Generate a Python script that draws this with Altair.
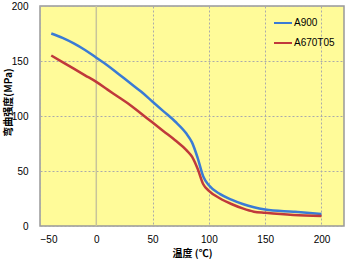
import altair as alt
import pandas as pd

temps = [-40, -30, -20, -10, 0, 10, 20, 30, 40, 50, 60, 70, 80, 85, 90, 95, 100, 110, 120, 130, 140, 150, 175, 200]
a900 = [175, 171, 166, 160, 153, 146, 138, 130, 122, 113, 104, 95, 84, 76, 62, 45, 37, 29, 24, 20, 17, 15, 13, 11]
a670 = [155, 149, 143, 137, 131, 124, 117, 110, 102, 94, 86, 78, 69, 63, 52, 38, 32, 25, 20, 16, 13, 12, 10, 9]
series = ["A900", "A670T05"]
colors = ["#3A7BD5", "#C0393B"]

rows = []
for t, v in zip(temps, a900):
    rows.append({"t": t, "v": v, "s": "A900"})
for t, v in zip(temps, a670):
    rows.append({"t": t, "v": v, "s": "A670T05"})
df = pd.DataFrame(rows)

x = alt.X("t:Q", scale=alt.Scale(domain=[-50, 220], nice=False),
          axis=alt.Axis(values=[-50, 0, 50, 100, 150, 200], title="温度 (℃)",
                        grid=True, gridDash=[2, 2], gridColor="#AAAAAA",
                        ticks=False, domain=False, labelPadding=8,
                        labelFont="Liberation Sans", labelFontSize=10, labelColor="#000",
                        titleFont="Noto Sans CJK SC", titleFontSize=10, titleFontWeight="bold",
                        titlePadding=4, titleColor="#000"))
y = alt.Y("v:Q", scale=alt.Scale(domain=[0, 200], nice=False),
          axis=alt.Axis(values=[0, 50, 100, 150, 200], title="弯曲强度(MPa)",
                        grid=True, gridDash=[2, 2], gridColor="#AAAAAA",
                        ticks=False, domain=False, labelPadding=12,
                        labelFont="Liberation Sans", labelFontSize=10, labelColor="#000",
                        titleFont="Noto Sans CJK SC", titleFontSize=10, titleFontWeight="bold",
                        titleX=-32, titleY=96, titleAngle=270, titleAlign="center",
                        titleBaseline="middle", titleColor="#000"))

lines = alt.Chart(df).mark_line(strokeWidth=2.5, interpolate="monotone").encode(
    x=x, y=y,
    color=alt.Color("s:N", scale=alt.Scale(domain=series, range=colors),
                    sort=series,
                    legend=alt.Legend(title=None, orient="none", legendX=233, legendY=7,
                                      symbolType="stroke", symbolSize=324, symbolStrokeWidth=2,
                                      labelFont="Liberation Sans", labelFontSize=10,
                                      labelOffset=1, rowPadding=5, labelColor="#000")),
)

zero = alt.Chart(pd.DataFrame({"z": [0]})).mark_rule(color="#C8C49A", strokeWidth=1.5).encode(
    x=alt.X("z:Q", scale=alt.Scale(domain=[-50, 220], nice=False))
)

chart = alt.layer(zero, lines).properties(
    width=304, height=220,
    padding={"left": 40, "top": 6, "right": 6, "bottom": 36},
    autosize=alt.AutoSizeParams(type="none"),
    background="white",
).configure_view(fill="#FFFB99", stroke="#999999", strokeWidth=1.5)

chart.save("out.html", embed_options={"renderer": "svg", "actions": False})
